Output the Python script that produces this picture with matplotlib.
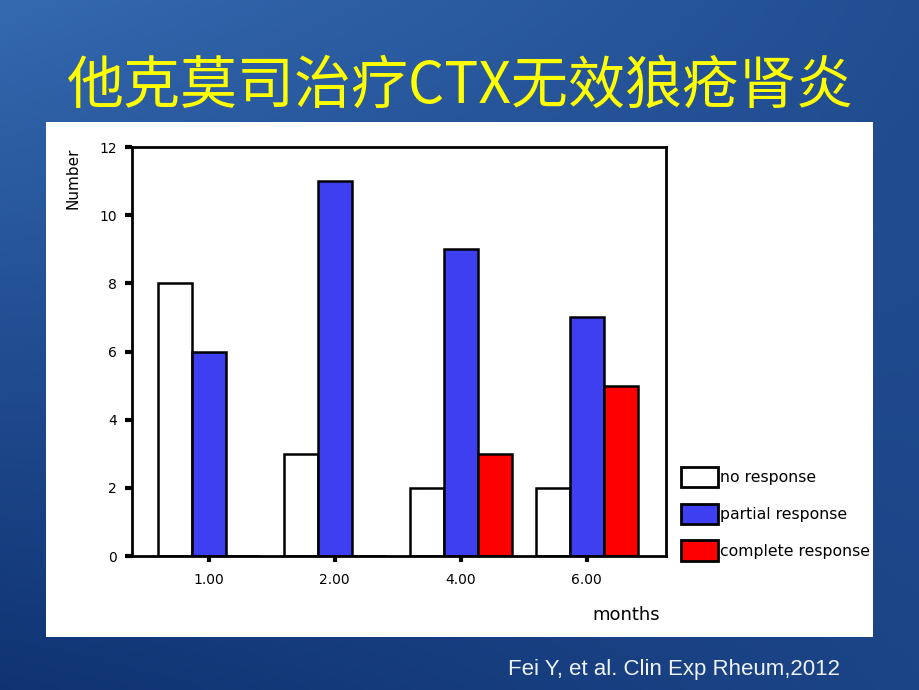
import numpy as np
import matplotlib
matplotlib.use("Agg")
from matplotlib import pyplot as plt
from matplotlib.patches import Rectangle, Patch

# data
months = ["1.00", "2.00", "4.00", "6.00"]
noResponse = [8, 3, 2, 2]
partialResponse = [6, 11, 9, 7]
completeResponse = [0, 0, 3, 5]
seriesNames = ["no response", "partial response", "complete response"]
seriesColors = ["#FFFFFF", "#3F3FF2", "#FF0000"]

W, H = 920, 690
fig = plt.figure(figsize=(W / 100, H / 100), dpi=100)

# slide background: dark blue gradient
bg = fig.add_axes([0, 0, 1, 1])
xx, yy = np.meshgrid(np.linspace(0, 1, 200), np.linspace(0, 1, 150))
shade = 0.6 * (1 - xx) * (1 - yy) + 0.3 * (1 - yy) * xx + 0.2 * yy * xx
c0 = np.array([0.06, 0.20, 0.45])
c1 = np.array([0.30, 0.55, 0.85])
img = c0 + shade[..., None] * (c1 - c0)
bg.imshow(img, aspect="auto", extent=[0, 1, 0, 1], origin="upper")
bg.set_axis_off()


def fx(px):
    return px / W


def fy(py):
    return 1 - py / H


# white panel
fig.patches.append(Rectangle((fx(46), fy(637)), fx(873) - fx(46), fy(122) - fy(637),
                             transform=fig.transFigure, facecolor="white",
                             edgecolor="none", zorder=1))

ax = fig.add_axes([fx(132), fy(556), fx(666) - fx(132), fy(147) - fy(556)])
ax.set_zorder(2)
x = np.arange(len(months))
barWidth = 0.27
allSeries = [noResponse, partialResponse, completeResponse]
for i, (vals, name, col) in enumerate(zip(allSeries, seriesNames, seriesColors)):
    ax.bar(x + (i - 1) * barWidth, vals, width=barWidth, color=col,
           edgecolor="black", linewidth=1.8, label=name)

ax.set_xlim(-0.61, 3.63)
ax.set_ylim(0, 12)
ax.set_yticks(range(0, 13, 2))
ax.set_xticks(x)
ax.set_xticklabels(months)
ax.tick_params(axis="y", length=5, width=3, labelsize=10, pad=6)
ax.tick_params(axis="x", length=4, width=3, labelsize=10, pad=8)
for s in ax.spines.values():
    s.set_linewidth(2)

fig.text(fx(73), fy(178), "Number", rotation=90, ha="center", va="center",
         fontsize=11, zorder=3)
fig.text(fx(626), fy(615), "months", ha="center", va="center", fontsize=13, zorder=3)

handles = [Patch(facecolor=c, edgecolor="black", linewidth=2) for c in seriesColors]
leg = fig.legend(handles, seriesNames, loc="upper left",
                 bbox_to_anchor=(fx(667), fy(453)), frameon=False, fontsize=11.3,
                 handlelength=2.35, handleheight=1.6, handletextpad=0.1,
                 labelspacing=1.05)
leg.set_zorder(3)

fig.text(0.5, fy(86), "他克莫司治疗CTX无效狼疮肾炎", ha="center", va="center",
         fontsize=41, color="#FFFF00",
         family=["Noto Sans CJK SC", "DejaVu Sans"], zorder=3)
fig.text(fx(840), fy(670), "Fei Y, et al. Clin Exp Rheum,2012", ha="right",
         va="center", fontsize=16, color="#EEF2FA", family="Liberation Sans",
         zorder=3)

fig.savefig("out.png", dpi=100)
